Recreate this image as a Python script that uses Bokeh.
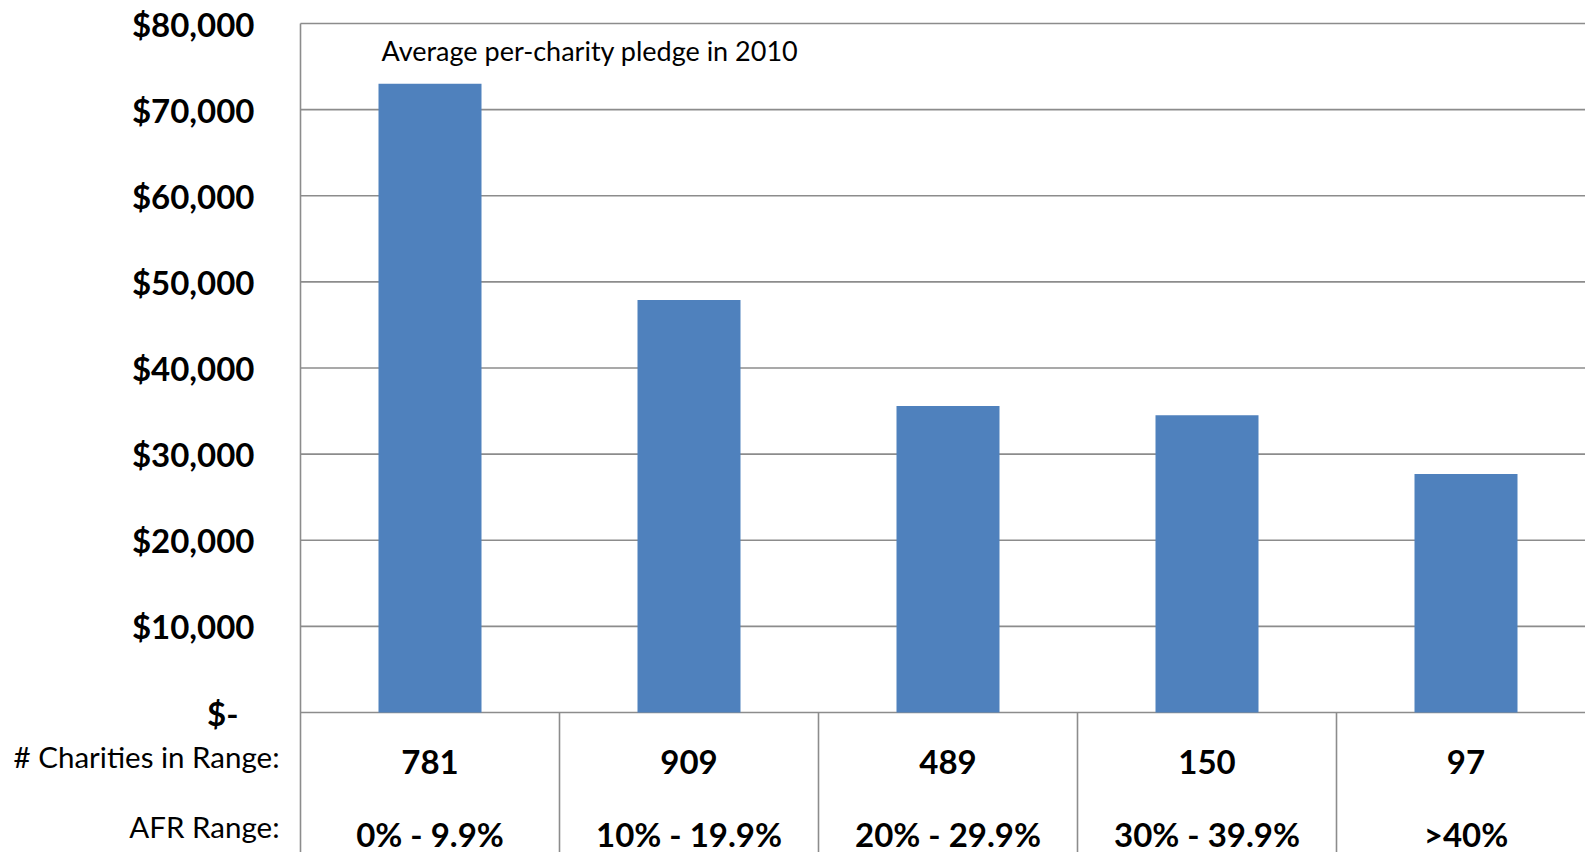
from bokeh.plotting import figure
from bokeh.models import (Range1d, FixedTicker, ColumnDataSource, Label,
                          CustomJSTickFormatter, LinearAxis)
from bokeh.core.properties import value
from bokeh.embed import file_html
from bokeh.resources import INLINE

# ---- data ----
afr_ranges = ["0% - 9.9%", "10% - 19.9%", "20% - 29.9%", "30% - 39.9%", ">40%"]
charity_counts = ["781", "909", "489", "150", "97"]
avg_pledge = [73000, 47900, 35600, 34500, 27700]
y_ticks = [0, 10000, 20000, 30000, 40000, 50000, 60000, 70000, 80000]
annotation = "Average per-charity pledge in 2010"
row_titles = ["# Charities in Range:", "AFR Range:"]

# ---- layout constants (pixels) ----
W, H = 1585, 852
axis_px = 300
top_px, zero_px = 23, 712
cat_px = 259
upp = 80000 / (zero_px - top_px)          # data units per pixel
y_end = 80000 + top_px * upp
y_start = -(H - zero_px) * upp
x_start = -axis_px / cat_px
x_end = (W - axis_px) / cat_px

FONT = "Lato"
GRID = "#8C8C8C"
BAR = "#4F81BD"

p = figure(width=W, height=H, output_backend="svg", toolbar_location=None,
           x_range=Range1d(x_start, x_end), y_range=Range1d(y_start, y_end),
           y_axis_location=None, x_axis_location=None,
           min_border_left=0, min_border_right=0, min_border_top=0,
           min_border_bottom=0)
p.outline_line_color = None
p.background_fill_color = "white"
p.border_fill_color = "white"
p.xgrid.visible = False
p.ygrid.visible = False

ticker = FixedTicker(ticks=y_ticks)
yaxis = LinearAxis(ticker=ticker, fixed_location=0)
yaxis.formatter = CustomJSTickFormatter(code="""
    if (tick == 0) return "$-\\u00a0\\u00a0";
    return "$" + tick.toLocaleString("en-US");
""")
yaxis.axis_line_color = None
yaxis.major_tick_line_color = None
yaxis.minor_tick_line_color = None
yaxis.major_tick_out = 0
yaxis.major_tick_in = 0
yaxis.major_label_standoff = 46
yaxis.major_label_text_font = FONT
yaxis.major_label_text_font_style = "bold"
yaxis.major_label_text_font_size = "33px"
yaxis.major_label_text_color = "black"
p.add_layout(yaxis, "left")

# horizontal gridlines, only over the bar area
n_t = len(y_ticks)
p.segment(x0=[0] * n_t, y0=y_ticks, x1=[x_end] * n_t, y1=y_ticks,
          line_color=GRID, line_width=1.6)

# bars
xs = [i + 0.5 for i in range(len(afr_ranges))]
src = ColumnDataSource(dict(x=xs, top=avg_pledge, counts=charity_counts, afr=afr_ranges))
p.vbar(x="x", top="top", bottom=0, width=103 / cat_px, source=src,
       fill_color=BAR, line_color=None)

# left border and category separators
p.segment(x0=[0], y0=[y_start], x1=[0], y1=[80000], line_color=GRID, line_width=1.6)
sep = list(range(1, len(afr_ranges)))
p.segment(x0=sep, y0=[y_start] * len(sep), x1=sep, y1=[0] * len(sep),
          line_color=GRID, line_width=1.6)

# row labels under the bars
count_y = -(761 - zero_px) * upp
afr_y = -(833 - zero_px) * upp
p.text(x="x", y=count_y, text="counts", source=src, text_align="center",
       text_baseline="middle", text_font=value(FONT), text_font_style="bold",
       text_font_size="33px", text_color="black")
p.text(x="x", y=afr_y, text="afr", source=src, text_align="center",
       text_baseline="middle", text_font=value(FONT), text_font_style="bold",
       text_font_size="33px", text_color="black")

# row titles left of the bar area
for t, yy in zip(row_titles, [-(756 - zero_px) * upp, -(826 - zero_px) * upp]):
    p.add_layout(Label(x=-21 / cat_px, y=yy, text=t,
                       text_align="right", text_baseline="middle",
                       text_font=FONT, text_font_size="29.5px", text_color="black"))

# annotation
p.add_layout(Label(x=(381 - axis_px) / cat_px, y=y_end - 50 * upp,
                   text=annotation, text_align="left", text_baseline="middle",
                   text_font=FONT, text_font_size="27px", text_color="black"))

open("out.html", "w").write(file_html(p, INLINE))
